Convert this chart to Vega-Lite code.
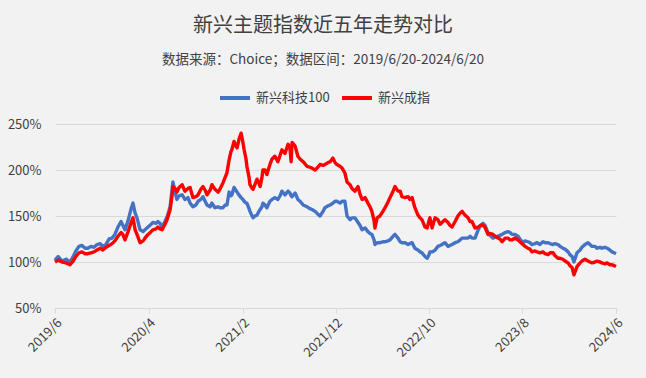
{
  "$schema": "https://vega.github.io/schema/vega-lite/v6.json",
  "width": 561,
  "height": 184,
  "autosize": {"type": "none"},
  "padding": {"left": 55, "top": 124, "right": 30, "bottom": 70},
  "background": "#f2f2f2",
  "config": {"view": {"stroke": null}, "font": "Noto Sans CJK SC"},
  "title": {
    "text": "新兴主题指数近五年走势对比",
    "subtitle": "数据来源：Choice；数据区间：2019/6/20-2024/6/20",
    "anchor": "middle",
    "frame": "group",
    "dx": -12.5,
    "offset": 15,
    "font": "Noto Sans CJK SC",
    "fontSize": 20,
    "fontWeight": "normal",
    "color": "#404040",
    "subtitleFont": "Noto Sans CJK SC",
    "subtitleFontSize": 13.5,
    "subtitleColor": "#404040",
    "subtitlePadding": 17
  },
  "data": {
    "values": [
      {"d": "2019/06/20", "新兴科技100": 102, "新兴成指": 100},
      {"d": "2019/06/30", "新兴科技100": 106, "新兴成指": 102},
      {"d": "2019/07/13", "新兴科技100": 101, "新兴成指": 100},
      {"d": "2019/07/26", "新兴科技100": 103, "新兴成指": 99},
      {"d": "2019/08/08", "新兴科技100": 100, "新兴成指": 97},
      {"d": "2019/08/18", "新兴科技100": 106, "新兴成指": 101},
      {"d": "2019/08/27", "新兴科技100": 112, "新兴成指": 106},
      {"d": "2019/09/06", "新兴科技100": 117, "新兴成指": 110},
      {"d": "2019/09/16", "新兴科技100": 118, "新兴成指": 111},
      {"d": "2019/09/26", "新兴科技100": 115, "新兴成指": 109},
      {"d": "2019/10/05", "新兴科技100": 115, "新兴成指": 109},
      {"d": "2019/10/15", "新兴科技100": 117, "新兴成指": 110},
      {"d": "2019/10/25", "新兴科技100": 116, "新兴成指": 111},
      {"d": "2019/11/04", "新兴科技100": 119, "新兴成指": 113},
      {"d": "2019/11/14", "新兴科技100": 120, "新兴成指": 115},
      {"d": "2019/11/23", "新兴科技100": 117, "新兴成指": 113},
      {"d": "2019/12/03", "新兴科技100": 119, "新兴成指": 116},
      {"d": "2019/12/13", "新兴科技100": 125, "新兴成指": 118},
      {"d": "2019/12/23", "新兴科技100": 126, "新兴成指": 120},
      {"d": "2020/01/01", "新兴科技100": 130, "新兴成指": 123},
      {"d": "2020/01/11", "新兴科技100": 138, "新兴成指": 128},
      {"d": "2020/01/21", "新兴科技100": 144, "新兴成指": 132},
      {"d": "2020/01/27", "新兴科技100": 140, "新兴成指": 130},
      {"d": "2020/02/03", "新兴科技100": 135, "新兴成指": 124},
      {"d": "2020/02/13", "新兴科技100": 145, "新兴成指": 133},
      {"d": "2020/02/23", "新兴科技100": 158, "新兴成指": 143},
      {"d": "2020/02/29", "新兴科技100": 164, "新兴成指": 148},
      {"d": "2020/03/07", "新兴科技100": 153, "新兴成指": 135},
      {"d": "2020/03/13", "新兴科技100": 148, "新兴成指": 130},
      {"d": "2020/03/23", "新兴科技100": 135, "新兴成指": 121},
      {"d": "2020/04/02", "新兴科技100": 133, "新兴成指": 123},
      {"d": "2020/04/08", "新兴科技100": 135, "新兴成指": 126},
      {"d": "2020/04/18", "新兴科技100": 138, "新兴成指": 130},
      {"d": "2020/04/28", "新兴科技100": 141, "新兴成指": 133},
      {"d": "2020/05/04", "新兴科技100": 143, "新兴成指": 135},
      {"d": "2020/05/14", "新兴科技100": 142, "新兴成指": 136},
      {"d": "2020/05/20", "新兴科技100": 144, "新兴成指": 138},
      {"d": "2020/05/27", "新兴科技100": 142, "新兴成指": 136},
      {"d": "2020/06/03", "新兴科技100": 138, "新兴成指": 135},
      {"d": "2020/06/12", "新兴科技100": 144, "新兴成指": 141},
      {"d": "2020/06/19", "新兴科技100": 149, "新兴成指": 146},
      {"d": "2020/06/29", "新兴科技100": 160, "新兴成指": 157},
      {"d": "2020/07/05", "新兴科技100": 178, "新兴成指": 172},
      {"d": "2020/07/08", "新兴科技100": 187, "新兴成指": 182},
      {"d": "2020/07/15", "新兴科技100": 176, "新兴成指": 180},
      {"d": "2020/07/21", "新兴科技100": 168, "新兴成指": 176},
      {"d": "2020/07/28", "新兴科技100": 172, "新兴成指": 181},
      {"d": "2020/08/07", "新兴科技100": 173, "新兴成指": 184},
      {"d": "2020/08/16", "新兴科技100": 168, "新兴成指": 177},
      {"d": "2020/08/26", "新兴科技100": 170, "新兴成指": 180},
      {"d": "2020/09/02", "新兴科技100": 164, "新兴成指": 181},
      {"d": "2020/09/11", "新兴科技100": 160, "新兴成指": 170},
      {"d": "2020/09/21", "新兴科技100": 162, "新兴成指": 171},
      {"d": "2020/09/28", "新兴科技100": 166, "新兴成指": 173},
      {"d": "2020/10/07", "新兴科技100": 168, "新兴成指": 179},
      {"d": "2020/10/14", "新兴科技100": 171, "新兴成指": 182},
      {"d": "2020/10/21", "新兴科技100": 166, "新兴成指": 178},
      {"d": "2020/10/27", "新兴科技100": 162, "新兴成指": 173},
      {"d": "2020/11/06", "新兴科技100": 160, "新兴成指": 178},
      {"d": "2020/11/12", "新兴科技100": 164, "新兴成指": 184},
      {"d": "2020/11/22", "新兴科技100": 159, "新兴成指": 179},
      {"d": "2020/12/02", "新兴科技100": 160, "新兴成指": 176},
      {"d": "2020/12/08", "新兴科技100": 159, "新兴成指": 179},
      {"d": "2020/12/18", "新兴科技100": 159, "新兴成指": 186},
      {"d": "2020/12/25", "新兴科技100": 162, "新兴成指": 192},
      {"d": "2020/12/31", "新兴科技100": 162, "新兴成指": 197},
      {"d": "2021/01/07", "新兴科技100": 176, "新兴成指": 211},
      {"d": "2021/01/13", "新兴科技100": 172, "新兴成指": 220},
      {"d": "2021/01/16", "新兴科技100": 173, "新兴成指": 222},
      {"d": "2021/01/23", "新兴科技100": 181, "新兴成指": 231},
      {"d": "2021/01/29", "新兴科技100": 178, "新兴成指": 226},
      {"d": "2021/02/02", "新兴科技100": 176, "新兴成指": 224},
      {"d": "2021/02/08", "新兴科技100": 173, "新兴成指": 233},
      {"d": "2021/02/15", "新兴科技100": 170, "新兴成指": 240},
      {"d": "2021/02/21", "新兴科技100": 168, "新兴成指": 230},
      {"d": "2021/02/25", "新兴科技100": 166, "新兴成指": 222},
      {"d": "2021/03/03", "新兴科技100": 164, "新兴成指": 212},
      {"d": "2021/03/06", "新兴科技100": 164, "新兴成指": 204},
      {"d": "2021/03/13", "新兴科技100": 158, "新兴成指": 192},
      {"d": "2021/03/16", "新兴科技100": 155, "新兴成指": 184},
      {"d": "2021/03/23", "新兴科技100": 150, "新兴成指": 180},
      {"d": "2021/03/26", "新兴科技100": 148, "新兴成指": 179},
      {"d": "2021/04/01", "新兴科技100": 150, "新兴成指": 184},
      {"d": "2021/04/08", "新兴科技100": 151, "新兴成指": 190},
      {"d": "2021/04/14", "新兴科技100": 155, "新兴成指": 186},
      {"d": "2021/04/18", "新兴科技100": 157, "新兴成指": 182},
      {"d": "2021/04/24", "新兴科技100": 160, "新兴成指": 192},
      {"d": "2021/04/27", "新兴科技100": 164, "新兴成指": 200},
      {"d": "2021/05/04", "新兴科技100": 162, "新兴成指": 200},
      {"d": "2021/05/10", "新兴科技100": 159, "新兴成指": 195},
      {"d": "2021/05/20", "新兴科技100": 166, "新兴成指": 206},
      {"d": "2021/05/27", "新兴科技100": 168, "新兴成指": 212},
      {"d": "2021/06/05", "新兴科技100": 170, "新兴成指": 215},
      {"d": "2021/06/15", "新兴科技100": 168, "新兴成指": 209},
      {"d": "2021/06/22", "新兴科技100": 172, "新兴成指": 216},
      {"d": "2021/06/28", "新兴科技100": 177, "新兴成指": 222},
      {"d": "2021/07/08", "新兴科技100": 173, "新兴成指": 218},
      {"d": "2021/07/18", "新兴科技100": 177, "新兴成指": 228},
      {"d": "2021/07/24", "新兴科技100": 175, "新兴成指": 224},
      {"d": "2021/07/28", "新兴科技100": 172, "新兴成指": 209},
      {"d": "2021/07/31", "新兴科技100": 171, "新兴成指": 230},
      {"d": "2021/08/10", "新兴科技100": 175, "新兴成指": 226},
      {"d": "2021/08/19", "新兴科技100": 168, "新兴成指": 215},
      {"d": "2021/08/26", "新兴科技100": 166, "新兴成指": 212},
      {"d": "2021/09/05", "新兴科技100": 162, "新兴成指": 209},
      {"d": "2021/09/18", "新兴科技100": 160, "新兴成指": 204},
      {"d": "2021/09/27", "新兴科技100": 158, "新兴成指": 203},
      {"d": "2021/10/04", "新兴科技100": 157, "新兴成指": 202},
      {"d": "2021/10/14", "新兴科技100": 155, "新兴成指": 200},
      {"d": "2021/10/23", "新兴科技100": 152, "新兴成指": 203},
      {"d": "2021/10/30", "新兴科技100": 150, "新兴成指": 206},
      {"d": "2021/11/09", "新兴科技100": 155, "新兴成指": 205},
      {"d": "2021/11/15", "新兴科技100": 159, "新兴成指": 206},
      {"d": "2021/11/25", "新兴科技100": 161, "新兴成指": 208},
      {"d": "2021/12/02", "新兴科技100": 162, "新兴成指": 209},
      {"d": "2021/12/11", "新兴科技100": 164, "新兴成指": 213},
      {"d": "2021/12/18", "新兴科技100": 166, "新兴成指": 208},
      {"d": "2021/12/24", "新兴科技100": 166, "新兴成指": 206},
      {"d": "2022/01/03", "新兴科技100": 164, "新兴成指": 204},
      {"d": "2022/01/10", "新兴科技100": 166, "新兴成指": 202},
      {"d": "2022/01/19", "新兴科技100": 166, "新兴成指": 197},
      {"d": "2022/01/26", "新兴科技100": 150, "新兴成指": 187},
      {"d": "2022/02/05", "新兴科技100": 146, "新兴成指": 184},
      {"d": "2022/02/11", "新兴科技100": 148, "新兴成指": 180},
      {"d": "2022/02/21", "新兴科技100": 148, "新兴成指": 177},
      {"d": "2022/03/03", "新兴科技100": 143, "新兴成指": 182},
      {"d": "2022/03/09", "新兴科技100": 140, "新兴成指": 174},
      {"d": "2022/03/16", "新兴科技100": 135, "新兴成指": 168},
      {"d": "2022/03/26", "新兴科技100": 137, "新兴成指": 170},
      {"d": "2022/04/04", "新兴科技100": 133, "新兴成指": 164},
      {"d": "2022/04/11", "新兴科技100": 131, "新兴成指": 160},
      {"d": "2022/04/17", "新兴科技100": 130, "新兴成指": 155},
      {"d": "2022/04/24", "新兴科技100": 124, "新兴成指": 145},
      {"d": "2022/04/27", "新兴科技100": 119, "新兴成指": 137},
      {"d": "2022/05/04", "新兴科技100": 121, "新兴成指": 148},
      {"d": "2022/05/13", "新兴科技100": 121, "新兴成指": 150},
      {"d": "2022/05/23", "新兴科技100": 122, "新兴成指": 155},
      {"d": "2022/05/30", "新兴科技100": 122, "新兴成指": 159},
      {"d": "2022/06/08", "新兴科技100": 123, "新兴成指": 165},
      {"d": "2022/06/15", "新兴科技100": 124, "新兴成指": 170},
      {"d": "2022/06/25", "新兴科技100": 128, "新兴成指": 177},
      {"d": "2022/07/01", "新兴科技100": 130, "新兴成指": 182},
      {"d": "2022/07/11", "新兴科技100": 126, "新兴成指": 177},
      {"d": "2022/07/18", "新兴科技100": 122, "新兴成指": 177},
      {"d": "2022/07/24", "新兴科技100": 121, "新兴成指": 171},
      {"d": "2022/08/03", "新兴科技100": 121, "新兴成指": 170},
      {"d": "2022/08/13", "新兴科技100": 119, "新兴成指": 171},
      {"d": "2022/08/19", "新兴科技100": 120, "新兴成指": 168},
      {"d": "2022/08/26", "新兴科技100": 121, "新兴成指": 170},
      {"d": "2022/09/04", "新兴科技100": 115, "新兴成指": 159},
      {"d": "2022/09/14", "新兴科技100": 113, "新兴成指": 151},
      {"d": "2022/09/21", "新兴科技100": 111, "新兴成指": 148},
      {"d": "2022/09/27", "新兴科技100": 110, "新兴成指": 146},
      {"d": "2022/10/07", "新兴科技100": 106, "新兴成指": 138},
      {"d": "2022/10/14", "新兴科技100": 104, "新兴成指": 137},
      {"d": "2022/10/20", "新兴科技100": 108, "新兴成指": 145},
      {"d": "2022/10/23", "新兴科技100": 111, "新兴成指": 148},
      {"d": "2022/10/30", "新兴科技100": 111, "新兴成指": 137},
      {"d": "2022/11/05", "新兴科技100": 112, "新兴成指": 144},
      {"d": "2022/11/09", "新兴科技100": 113, "新兴成指": 148},
      {"d": "2022/11/18", "新兴科技100": 117, "新兴成指": 146},
      {"d": "2022/11/25", "新兴科技100": 118, "新兴成指": 141},
      {"d": "2022/12/01", "新兴科技100": 119, "新兴成指": 143},
      {"d": "2022/12/11", "新兴科技100": 121, "新兴成指": 146},
      {"d": "2022/12/21", "新兴科技100": 117, "新兴成指": 143},
      {"d": "2022/12/27", "新兴科技100": 118, "新兴成指": 140},
      {"d": "2023/01/03", "新兴科技100": 119, "新兴成指": 138},
      {"d": "2023/01/13", "新兴科技100": 121, "新兴成指": 144},
      {"d": "2023/01/22", "新兴科技100": 122, "新兴成指": 150},
      {"d": "2023/01/29", "新兴科技100": 124, "新兴成指": 153},
      {"d": "2023/02/05", "新兴科技100": 126, "新兴成指": 155},
      {"d": "2023/02/14", "新兴科技100": 126, "新兴成指": 151},
      {"d": "2023/02/24", "新兴科技100": 126, "新兴成指": 148},
      {"d": "2023/03/03", "新兴科技100": 128, "新兴成指": 144},
      {"d": "2023/03/09", "新兴科技100": 126, "新兴成指": 144},
      {"d": "2023/03/19", "新兴科技100": 126, "新兴成指": 137},
      {"d": "2023/03/29", "新兴科技100": 135, "新兴成指": 138},
      {"d": "2023/04/07", "新兴科技100": 140, "新兴成指": 140},
      {"d": "2023/04/14", "新兴科技100": 142, "新兴成指": 140},
      {"d": "2023/04/20", "新兴科技100": 140, "新兴成指": 138},
      {"d": "2023/04/30", "新兴科技100": 132, "新兴成指": 130},
      {"d": "2023/05/07", "新兴科技100": 129, "新兴成指": 131},
      {"d": "2023/05/16", "新兴科技100": 126, "新兴成指": 130},
      {"d": "2023/05/23", "新兴科技100": 127, "新兴成指": 128},
      {"d": "2023/06/02", "新兴科技100": 128, "新兴成指": 126},
      {"d": "2023/06/08", "新兴科技100": 129, "新兴成指": 125},
      {"d": "2023/06/15", "新兴科技100": 130, "新兴成指": 122},
      {"d": "2023/06/25", "新兴科技100": 132, "新兴成指": 126},
      {"d": "2023/07/04", "新兴科技100": 133, "新兴成指": 126},
      {"d": "2023/07/11", "新兴科技100": 132, "新兴成指": 124},
      {"d": "2023/07/17", "新兴科技100": 130, "新兴成指": 124},
      {"d": "2023/07/27", "新兴科技100": 130, "新兴成指": 126},
      {"d": "2023/08/06", "新兴科技100": 128, "新兴成指": 124},
      {"d": "2023/08/12", "新兴科技100": 125, "新兴成指": 122},
      {"d": "2023/08/22", "新兴科技100": 121, "新兴成指": 119},
      {"d": "2023/08/29", "新兴科技100": 123, "新兴成指": 117},
      {"d": "2023/09/07", "新兴科技100": 122, "新兴成指": 115},
      {"d": "2023/09/14", "新兴科技100": 121, "新兴成指": 114},
      {"d": "2023/09/20", "新兴科技100": 119, "新兴成指": 111},
      {"d": "2023/09/30", "新兴科技100": 120, "新兴成指": 112},
      {"d": "2023/10/07", "新兴科技100": 121, "新兴成指": 111},
      {"d": "2023/10/16", "新兴科技100": 119, "新兴成指": 110},
      {"d": "2023/10/26", "新兴科技100": 122, "新兴成指": 111},
      {"d": "2023/11/02", "新兴科技100": 121, "新兴成指": 109},
      {"d": "2023/11/12", "新兴科技100": 121, "新兴成指": 108},
      {"d": "2023/11/18", "新兴科技100": 120, "新兴成指": 110},
      {"d": "2023/11/28", "新兴科技100": 119, "新兴成指": 110},
      {"d": "2023/12/04", "新兴科技100": 120, "新兴成指": 107},
      {"d": "2023/12/14", "新兴科技100": 119, "新兴成指": 104},
      {"d": "2023/12/21", "新兴科技100": 117, "新兴成指": 104},
      {"d": "2023/12/30", "新兴科技100": 115, "新兴成指": 103},
      {"d": "2024/01/06", "新兴科技100": 114, "新兴成指": 101},
      {"d": "2024/01/16", "新兴科技100": 111, "新兴成指": 99},
      {"d": "2024/01/22", "新兴科技100": 108, "新兴成指": 96},
      {"d": "2024/01/29", "新兴科技100": 106, "新兴成指": 94},
      {"d": "2024/02/04", "新兴科技100": 100, "新兴成指": 86},
      {"d": "2024/02/14", "新兴科技100": 110, "新兴成指": 95},
      {"d": "2024/02/24", "新兴科技100": 113, "新兴成指": 99},
      {"d": "2024/03/01", "新兴科技100": 116, "新兴成指": 101},
      {"d": "2024/03/11", "新兴科技100": 119, "新兴成指": 103},
      {"d": "2024/03/21", "新兴科技100": 121, "新兴成指": 101},
      {"d": "2024/03/27", "新兴科技100": 119, "新兴成指": 100},
      {"d": "2024/04/03", "新兴科技100": 117, "新兴成指": 99},
      {"d": "2024/04/13", "新兴科技100": 117, "新兴成指": 100},
      {"d": "2024/04/19", "新兴科技100": 115, "新兴成指": 101},
      {"d": "2024/04/29", "新兴科技100": 116, "新兴成指": 100},
      {"d": "2024/05/05", "新兴科技100": 115, "新兴成指": 99},
      {"d": "2024/05/15", "新兴科技100": 116, "新兴成指": 98},
      {"d": "2024/05/22", "新兴科技100": 115, "新兴成指": 99},
      {"d": "2024/05/31", "新兴科技100": 113, "新兴成指": 97},
      {"d": "2024/06/07", "新兴科技100": 111, "新兴成指": 97},
      {"d": "2024/06/14", "新兴科技100": 110, "新兴成指": 96},
      {"d": "2024/06/20", "新兴科技100": 109, "新兴成指": 95}
    ]
  },
  "transform": [
    {"fold": ["新兴科技100", "新兴成指"], "as": ["series", "value"]}
  ],
  "mark": {"type": "line", "strokeWidth": 3.4, "strokeJoin": "round"},
  "encoding": {
    "x": {
      "field": "d",
      "type": "temporal",
      "scale": {
        "domain": [
          {"year": 2019, "month": 6, "date": 20},
          {"year": 2024, "month": 6, "date": 20}
        ],
        "nice": false
      },
      "axis": {
        "title": null,
        "values": [
          {"year": 2019, "month": 6, "date": 20},
          {"year": 2020, "month": 4, "date": 20},
          {"year": 2021, "month": 2, "date": 20},
          {"year": 2021, "month": 12, "date": 20},
          {"year": 2022, "month": 10, "date": 20},
          {"year": 2023, "month": 8, "date": 20},
          {"year": 2024, "month": 6, "date": 20}
        ],
        "format": "%Y/%-m",
        "labelAngle": -45,
        "labelFont": "Noto Sans CJK SC",
        "labelFontSize": 13,
        "labelColor": "#404040",
        "labelPadding": 3,
        "labelOverlap": false,
        "labelFlush": false,
        "grid": false,
        "domainColor": "#d9d9d9",
        "tickColor": "#d9d9d9",
        "tickSize": 5
      }
    },
    "y": {
      "field": "value",
      "type": "quantitative",
      "scale": {"domain": [50, 250], "nice": false, "zero": false},
      "axis": {
        "title": null,
        "values": [50, 100, 150, 200, 250],
        "labelExpr": "datum.value + '%'",
        "labelFont": "Noto Sans CJK SC",
        "labelFontSize": 13,
        "labelColor": "#404040",
        "labelPadding": 14,
        "ticks": false,
        "domain": false,
        "gridColor": "#d9d9d9",
        "gridWidth": 1
      }
    },
    "color": {
      "field": "series",
      "type": "nominal",
      "scale": {
        "domain": ["新兴科技100", "新兴成指"],
        "range": ["#4472C4", "#FF0000"]
      },
      "legend": {
        "title": null,
        "orient": "none",
        "direction": "horizontal",
        "legendX": 163,
        "legendY": -43,
        "padding": 0,
        "symbolType": "stroke",
        "symbolSize": 900,
        "symbolStrokeWidth": 4,
        "labelFont": "Noto Sans CJK SC",
        "labelFontSize": 13,
        "labelColor": "#404040",
        "labelOffset": 4,
        "columnPadding": 4
      }
    }
  }
}
